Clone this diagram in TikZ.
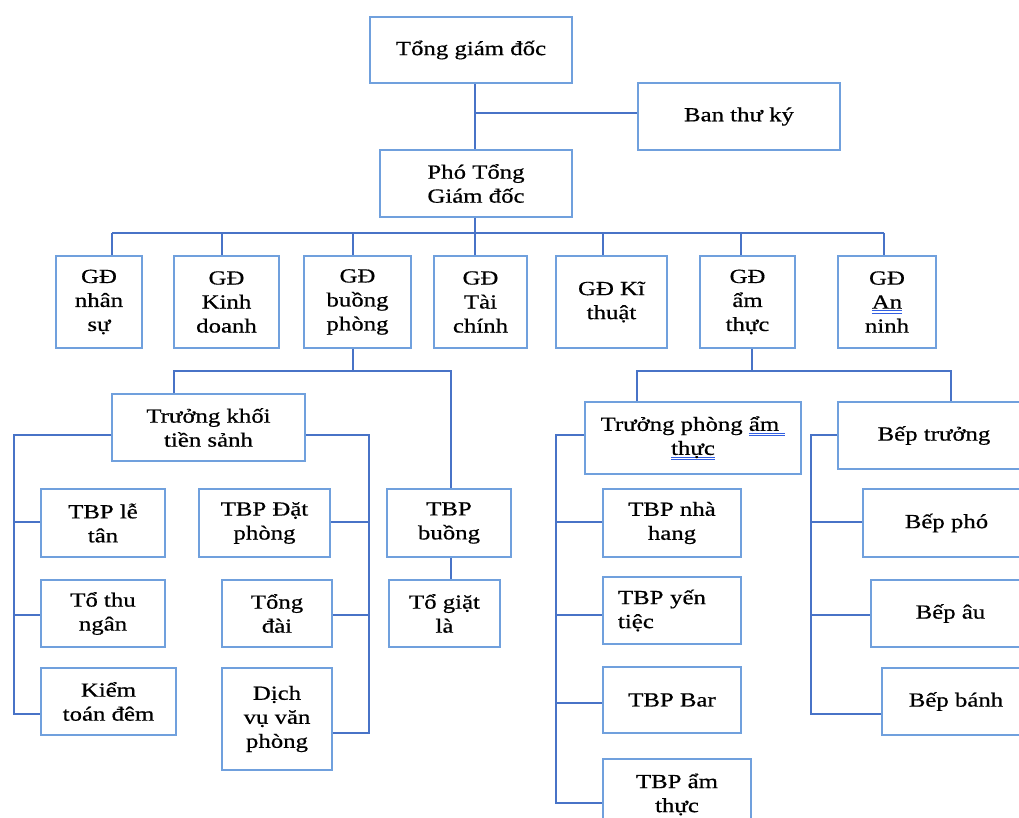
\documentclass[tikz,border=0pt]{standalone}
\usepackage{fontspec}
\setmainfont{Liberation Serif}[FakeStretch=1.24,FakeBold=0.6]
\definecolor{boxc}{RGB}{112,160,221}
\definecolor{connc}{RGB}{72,115,199}
\definecolor{ulc}{RGB}{50,95,225}
\newsavebox\dulbox
\newcommand\dul[1]{\sbox\dulbox{#1}\leavevmode\rlap{\textcolor{ulc}{\rule[-2.6pt]{\wd\dulbox}{0.9pt}}}\rlap{\textcolor{ulc}{\rule[-4.8pt]{\wd\dulbox}{0.9pt}}}\usebox\dulbox}
\tikzset{
  orgbox/.style={draw=boxc, line width=1.5pt, align=center, inner sep=0pt,
    font=\fontsize{20}{24}\selectfont, text=black},
  conn/.style={draw=connc, line width=1.8pt},
}
\begin{document}
\begin{tikzpicture}[x=1pt,y=-1pt]
\useasboundingbox (0,0) rectangle (1019,818);
\clip (0,0) rectangle (1019,818);
\fill[white] (0,0) rectangle (1019,818);

% top level
\node[orgbox, minimum width=202pt, minimum height=66pt] (tgd) at (471,50) {Tổng giám đốc};
\node[orgbox, minimum width=202pt, minimum height=67pt] (btk) at (739,116.5) {Ban thư ký};
\node[orgbox, minimum width=192pt, minimum height=67pt] (ptgd) at (476,183.5) {Phó Tổng\\Giám đốc};

% directors
\node[orgbox, minimum width=86pt, minimum height=92pt] (gd1) at (99,302) {GĐ\\nhân\\sự};
\node[orgbox, minimum width=105pt, minimum height=92pt] (gd2) at (226.5,302) {GĐ\\Kinh\\doanh};
\node[orgbox, minimum width=107pt, minimum height=92pt] (gd3) at (357.5,302) {GĐ\\buồng\\phòng};
\node[orgbox, minimum width=93pt, minimum height=92pt] (gd4) at (480.5,302) {GĐ\\Tài\\chính};
\node[orgbox, minimum width=111pt, minimum height=92pt] (gd5) at (611.5,302) {GĐ Kĩ\\thuật};
\node[orgbox, minimum width=95pt, minimum height=92pt] (gd6) at (747.5,302) {GĐ\\ẩm\\thực};
\node[orgbox, minimum width=98pt, minimum height=92pt] (gd7) at (887,302) {GĐ\\\dul{An}\\ninh};

% buong phong branch
\node[orgbox, minimum width=193pt, minimum height=67pt] (tk) at (208.5,427.5) {Trưởng khối\\tiền sảnh};
\node[orgbox, minimum width=124pt, minimum height=68pt] (tbp1) at (103,523) {TBP lễ\\tân};
\node[orgbox, minimum width=124pt, minimum height=67pt] (tbp2) at (103,613.5) {Tổ thu\\ngân};
\node[orgbox, minimum width=135pt, minimum height=67pt] (tbp3) at (108.5,701.5) {Kiểm\\toán đêm};
\node[orgbox, minimum width=131pt, minimum height=68pt] (dp) at (264.5,523) {TBP Đặt\\phòng};
\node[orgbox, minimum width=110pt, minimum height=67pt] (td) at (277,613.5) {Tổng\\đài};
\node[orgbox, minimum width=110pt, minimum height=102pt] (dv) at (277,719) {Dịch\\vụ văn\\phòng};
\node[orgbox, minimum width=124pt, minimum height=68pt] (tbpb) at (449,523) {TBP\\buồng};
\node[orgbox, minimum width=111pt, minimum height=67pt] (tgl) at (444.5,613.5) {Tổ giặt\\là};

% am thuc branch
\node[orgbox, minimum width=216pt, minimum height=72pt] (tpat) at (693,438) {Trưởng phòng \dul{ẩm\ }\\\dul{thực}};
\node[orgbox, minimum width=192pt, minimum height=67pt] (bt) at (934,435.5) {Bếp trưởng};
\node[orgbox, minimum width=138pt, minimum height=68pt] (nh) at (672,523) {TBP nhà\\hang};
\node[orgbox, minimum width=138pt, minimum height=67pt, align=left, text width=108pt, inner xsep=15pt] (yt) at (672,610.5) {TBP yến\\tiệc};
\node[orgbox, minimum width=138pt, minimum height=66pt] (bar) at (672,700) {TBP Bar};
\node[orgbox, minimum width=148pt, minimum height=71pt] (tam) at (677,794.5) {TBP ẩm\\thực};
\node[orgbox, minimum width=167pt, minimum height=68pt] (bp) at (946.5,523) {Bếp phó};
\node[orgbox, minimum width=159pt, minimum height=67pt] (ba) at (950.5,613.5) {Bếp âu};
\node[orgbox, minimum width=148pt, minimum height=67pt] (bb) at (956,701.5) {Bếp bánh};

% helper coordinates
\coordinate (trunkx) at (475,0);
\coordinate (btky) at (0,113);
\coordinate (busy) at (0,233);
\coordinate (d1) at (112,0);
\coordinate (d2) at (222,0);
\coordinate (d3) at (353,0);
\coordinate (d5) at (603,0);
\coordinate (d6) at (741,0);
\coordinate (d7) at (884,0);

% top connectors
\draw[conn] (tgd.south -| trunkx) -- (ptgd.north -| trunkx);
\draw[conn] (trunkx |- btky) -- (btk.west |- btky);
\draw[conn] (ptgd.south -| trunkx) -- (trunkx |- gd4.north);
\draw[conn] (d1 |- busy) -- (d7 |- busy);
\draw[conn] (d1 |- busy) -- (d1 |- gd1.north);
\draw[conn] (d2 |- busy) -- (d2 |- gd2.north);
\draw[conn] (d3 |- busy) -- (d3 |- gd3.north);
\draw[conn] (d5 |- busy) -- (d5 |- gd5.north);
\draw[conn] (d6 |- busy) -- (d6 |- gd6.north);
\draw[conn] (d7 |- busy) -- (d7 |- gd7.north);

% buong phong connectors
\coordinate (by) at (0,371);
\coordinate (k1) at (174,0);
\coordinate (k2) at (451,0);
\draw[conn] (d3 |- gd3.south) -- (d3 |- by);
\draw[conn] (k1 |- tk.north) -- (k1 |- by) -- (k2 |- by) -- (k2 |- tbpb.north);
\draw[conn] (k2 |- tbpb.south) -- (k2 |- tgl.north);

\coordinate (L1) at (14,435);
\coordinate (L2) at (14,714);
\coordinate (L12) at (14,522);
\coordinate (L13) at (14,615);
\draw[conn] (tk.west |- L1) -- (L1) -- (L2) -- (tbp3.west |- L2);
\draw[conn] (L12) -- (tbp1.west |- L12);
\draw[conn] (L13) -- (tbp2.west |- L13);

\coordinate (R1) at (369,435);
\coordinate (R2) at (369,733);
\coordinate (R12) at (369,522);
\coordinate (R13) at (369,615);
\draw[conn] (tk.east |- R1) -- (R1) -- (R2) -- (dv.east |- R2);
\draw[conn] (R12) -- (dp.east |- R12);
\draw[conn] (R13) -- (td.east |- R13);

% am thuc connectors
\coordinate (d6b) at (752,0);
\coordinate (a1) at (637,0);
\coordinate (a2) at (951,0);
\draw[conn] (d6b |- gd6.south) -- (d6b |- by);
\draw[conn] (a1 |- tpat.north) -- (a1 |- by) -- (a2 |- by) -- (a2 |- bt.north);

\coordinate (P1) at (556,435);
\coordinate (P2) at (556,803);
\coordinate (P12) at (556,522);
\coordinate (P13) at (556,615);
\coordinate (P14) at (556,703);
\draw[conn] (tpat.west |- P1) -- (P1) -- (P2) -- (tam.west |- P2);
\draw[conn] (P12) -- (nh.west |- P12);
\draw[conn] (P13) -- (yt.west |- P13);
\draw[conn] (P14) -- (bar.west |- P14);

\coordinate (Q1) at (811,435);
\coordinate (Q2) at (811,714);
\coordinate (Q12) at (811,522);
\coordinate (Q13) at (811,615);
\draw[conn] (bt.west |- Q1) -- (Q1) -- (Q2) -- (bb.west |- Q2);
\draw[conn] (Q12) -- (bp.west |- Q12);
\draw[conn] (Q13) -- (ba.west |- Q13);
\end{tikzpicture}
\end{document}
